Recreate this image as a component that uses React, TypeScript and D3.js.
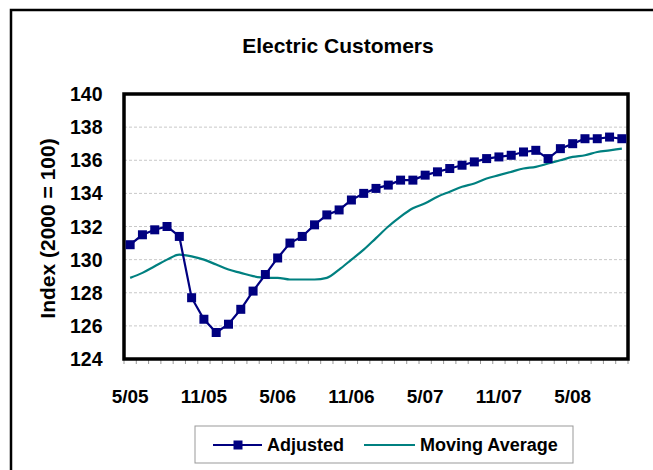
import * as d3 from "d3";

const months = [
  "5/05", "6/05", "7/05", "8/05", "9/05", "10/05", "11/05", "12/05",
  "1/06", "2/06", "3/06", "4/06", "5/06", "6/06", "7/06", "8/06", "9/06", "10/06", "11/06", "12/06",
  "1/07", "2/07", "3/07", "4/07", "5/07", "6/07", "7/07", "8/07", "9/07", "10/07", "11/07", "12/07",
  "1/08", "2/08", "3/08", "4/08", "5/08", "6/08", "7/08", "8/08", "9/08",
];

const adjusted = [
  130.9, 131.5, 131.8, 132.0, 131.4, 127.7, 126.4, 125.6,
  126.1, 127.0, 128.1, 129.1, 130.1, 131.0, 131.4, 132.1, 132.7, 133.0, 133.6, 134.0,
  134.3, 134.5, 134.8, 134.8, 135.1, 135.3, 135.5, 135.7, 135.9, 136.1, 136.2, 136.3,
  136.5, 136.6, 136.1, 136.7, 137.0, 137.3, 137.3, 137.4, 137.3,
];

const movingAverage = [
  128.9, 129.2, 129.6, 130.0, 130.3, 130.2, 130.0, 129.7,
  129.4, 129.2, 129.0, 128.9, 128.9, 128.8, 128.8, 128.8, 128.9, 129.4, 130.0, 130.6,
  131.3, 132.0, 132.6, 133.1, 133.4, 133.8, 134.1, 134.4, 134.6, 134.9, 135.1, 135.3,
  135.5, 135.6, 135.8, 136.0, 136.2, 136.3, 136.5, 136.6, 136.7,
];

const tickLabels = ["5/05", "11/05", "5/06", "11/06", "5/07", "11/07", "5/08"];
const yTicks = [124, 126, 128, 130, 132, 134, 136, 138, 140];

const W = 653;
const H = 470;
const plot = { left: 124, top: 94, right: 628, bottom: 359 };
const font = "Arial, 'Liberation Sans', sans-serif";

export default function App() {
  const x = d3.scaleBand<string>().domain(months).range([plot.left, plot.right]);
  const y = d3.scaleLinear().domain([124, 140]).range([plot.bottom, plot.top]);
  const cx = (i: number) => (x(months[i]) as number) + x.bandwidth() / 2;

  const adjLine = d3.line<number>().x((_, i) => cx(i)).y((d) => y(d));
  const maLine = d3
    .line<number>()
    .x((_, i) => cx(i))
    .y((d) => y(d))
    .curve(d3.curveMonotoneX);

  const boundaries = months.map((m) => x(m) as number).concat([plot.right]);

  return (
    <svg
      width={W}
      height={H}
      style={{ position: "absolute", left: 0, top: 0 }}
      fontFamily={font}
      fontWeight="bold"
    >
      <rect x={0} y={0} width={W} height={H} fill="#fff" />
      <rect x={11} y={10} width={W + 20} height={H + 20} fill="none" stroke="#000" strokeWidth={2.5} />

      <text x={338} y={53} textAnchor="middle" fontSize={21}>
        Electric Customers
      </text>

      {/* grid */}
      {yTicks.slice(1, -1).map((t) => (
        <line
          key={t}
          x1={plot.left}
          x2={plot.right}
          y1={y(t)}
          y2={y(t)}
          stroke="#c8c8c8"
          strokeWidth={1}
          strokeDasharray="3,2"
        />
      ))}

      {/* x ticks */}
      {boundaries.map((b, i) => (
        <line key={i} x1={b} x2={b} y1={plot.bottom} y2={plot.bottom + 5} stroke="#999" strokeWidth={1} />
      ))}

      {/* plot frame */}
      <rect
        x={plot.left}
        y={plot.top}
        width={plot.right - plot.left}
        height={plot.bottom - plot.top}
        fill="none"
        stroke="#000"
        strokeWidth={3.5}
      />

      {/* y tick labels */}
      {yTicks.map((t) => (
        <text key={t} x={102.5} y={y(t)} dy="0.36em" textAnchor="end" fontSize={19.5}>
          {t}
        </text>
      ))}

      {/* x tick labels */}
      {tickLabels.map((t) => (
        <text key={t} x={cx(months.indexOf(t))} y={403} textAnchor="middle" fontSize={19}>
          {t}
        </text>
      ))}

      <text
        transform={`translate(55, ${(plot.top + plot.bottom) / 2 + 2}) rotate(-90)`}
        textAnchor="middle"
        fontSize={21}
      >
        Index (2000 = 100)
      </text>

      {/* series */}
      <path d={maLine(movingAverage) as string} fill="none" stroke="#008080" strokeWidth={2.2} />
      <path d={adjLine(adjusted) as string} fill="none" stroke="#000080" strokeWidth={2.2} />
      {adjusted.map((v, i) => (
        <rect key={i} x={cx(i) - 4.5} y={y(v) - 4.5} width={9} height={9} fill="#000080" />
      ))}

      {/* legend */}
      <rect x={195} y={426} width={378} height={37} fill="#fff" stroke="#999" strokeWidth={1} />
      <line x1={213} x2={262} y1={445} y2={445} stroke="#000080" strokeWidth={2.2} />
      <rect x={233.5} y={440.5} width={9} height={9} fill="#000080" />
      <text x={267} y={445} dy="0.36em" fontSize={18}>
        Adjusted
      </text>
      <line x1={364} x2={415} y1={445} y2={445} stroke="#008080" strokeWidth={2.2} />
      <text x={420} y={445} dy="0.36em" fontSize={18}>
        Moving Average
      </text>
    </svg>
  );
}
